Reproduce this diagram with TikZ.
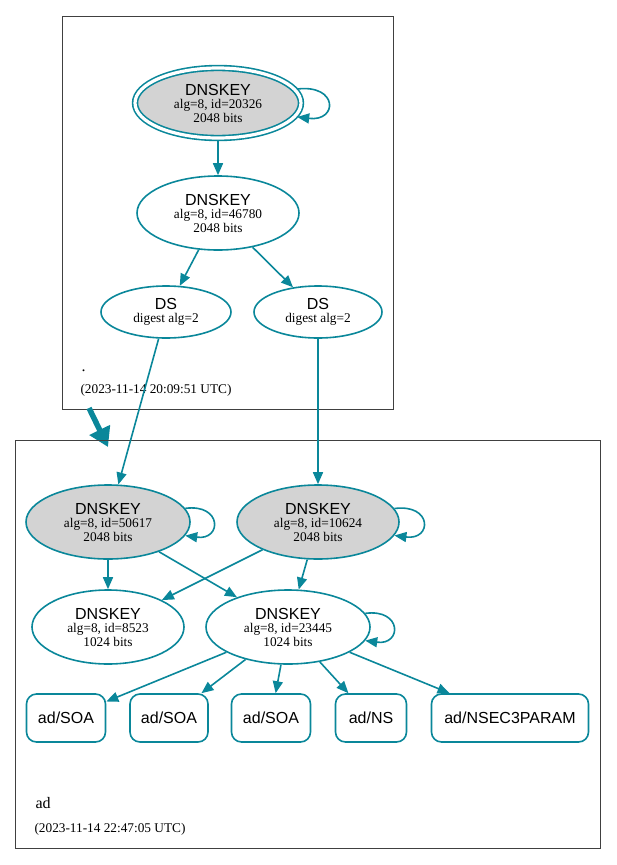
\documentclass[tikz,border=0pt]{standalone}
\usepackage{fontspec}
\setmainfont{Liberation Serif}
\setsansfont{Liberation Sans}
\usetikzlibrary{shapes.geometric, arrows.meta}
\definecolor{secure}{HTML}{0A879A}
\definecolor{keyfill}{HTML}{D3D3D3}
\newcommand{\keytitle}[1]{{\sffamily\fontsize{16}{16}\selectfont #1}}

\begin{document}
\begin{tikzpicture}[x=1pt, y=-1pt,
		key/.style={ellipse, draw=secure, line width=1.6pt, inner sep=0pt, align=center, font=\fontsize{13.3}{13.5}\selectfont},
		ksk/.style={key, fill=keyfill},
		record/.style={rectangle, rounded corners=10pt, draw=secure, line width=1.6pt, minimum height=48, inner sep=0pt, font=\sffamily\fontsize{16}{16}\selectfont},
		edge/.style={secure, line width=1.6pt, -{Triangle[length=12pt, width=10pt]}},
		zone/.style={draw=black!75, line width=0.8pt},
		zonename/.style={anchor=base west, font=\fontsize{16}{16}\selectfont},
		zonedate/.style={anchor=west, font=\fontsize{13.3}{13.5}\selectfont}]
		\useasboundingbox (0,0) rectangle (616,865);
		
		% Zona raiz
		\draw[zone] (62,16) rectangle (393,409);
		\node[ksk, double=white, double distance=3.2pt, outer sep=2.4pt, minimum width=166, minimum height=70] (ksk20326) at (218,103) {\keytitle{DNSKEY}\\ alg=8, id=20326\\ 2048 bits};
		\node[key, minimum width=162, minimum height=74] (zsk46780) at (218,213) {\keytitle{DNSKEY}\\ alg=8, id=46780\\ 2048 bits};
		\node[key, minimum width=130, minimum height=52] (dsa) at (166,312) {\keytitle{DS}\\ digest alg=2};
		\node[key, minimum width=128, minimum height=52] (dsb) at (318,312) {\keytitle{DS}\\ digest alg=2};
		\node[zonename] (rootname) at (78,371) {.};
		\node[zonedate] (rootdate) at (77,390) {(2023-11-14 20:09:51 UTC)};
		
		\draw[edge] (ksk20326.10) .. controls +(41,-5) and +(41,5) .. (ksk20326.-10);
		\draw[edge] (ksk20326) -- (zsk46780);
		\draw[edge] (zsk46780) -- (dsa);
		\draw[edge] (zsk46780) -- (dsb);
		
		% Delegacion
		\coordinate (delegtail) at (89,408);
		\coordinate (deleghead) at (108,447);
		\draw[secure, line width=5.5pt, -{Triangle[length=19pt, width=22pt]}] (delegtail) -- (deleghead);
		
		% Zona ad
		\draw[zone] (15,440) rectangle (600,848);
		\node[ksk, minimum width=164, minimum height=74] (ksk50617) at (108,522) {\keytitle{DNSKEY}\\ alg=8, id=50617\\ 2048 bits};
		\node[ksk, minimum width=162, minimum height=74] (ksk10624) at (318,522) {\keytitle{DNSKEY}\\ alg=8, id=10624\\ 2048 bits};
		\node[key, minimum width=152, minimum height=74] (zsk8523) at (108,627) {\keytitle{DNSKEY}\\ alg=8, id=8523\\ 1024 bits};
		\node[key, minimum width=164, minimum height=74] (zsk23445) at (288,627) {\keytitle{DNSKEY}\\ alg=8, id=23445\\ 1024 bits};
		
		\node[record, minimum width=79] (soaa) at (66,718) {ad/SOA};
		\node[record, minimum width=78] (soab) at (169,718) {ad/SOA};
		\node[record, minimum width=79] (soac) at (271,718) {ad/SOA};
		\node[record, minimum width=71] (ns) at (371,718) {ad/NS};
		\node[record, minimum width=157] (nsec3param) at (510,718) {ad/NSEC3PARAM};
		
		\node[zonename] (adname) at (32,808) {ad};
		\node[zonedate] (addate) at (31,829) {(2023-11-14 22:47:05 UTC)};
		
		\draw[edge] (dsa) -- (ksk50617);
		\draw[edge] (dsb) -- (ksk10624);
		\draw[edge] (ksk50617.10) .. controls +(37,-5) and +(37,5) .. (ksk50617.-10);
		\draw[edge] (ksk10624.10) .. controls +(38,-5) and +(38,5) .. (ksk10624.-10);
		\draw[edge] (zsk23445.10) .. controls +(37,-5) and +(37,5) .. (zsk23445.-10);
		\draw[edge] (ksk50617) -- (zsk8523);
		\draw[edge] (ksk50617) -- (zsk23445);
		\draw[edge] (ksk10624) -- (zsk8523);
		\draw[edge] (ksk10624) -- (zsk23445);
		\foreach \rr in {soaa, soab, soac, ns, nsec3param}{
			\draw[edge] (zsk23445) -- (\rr);}
	\end{tikzpicture}
\end{document}
